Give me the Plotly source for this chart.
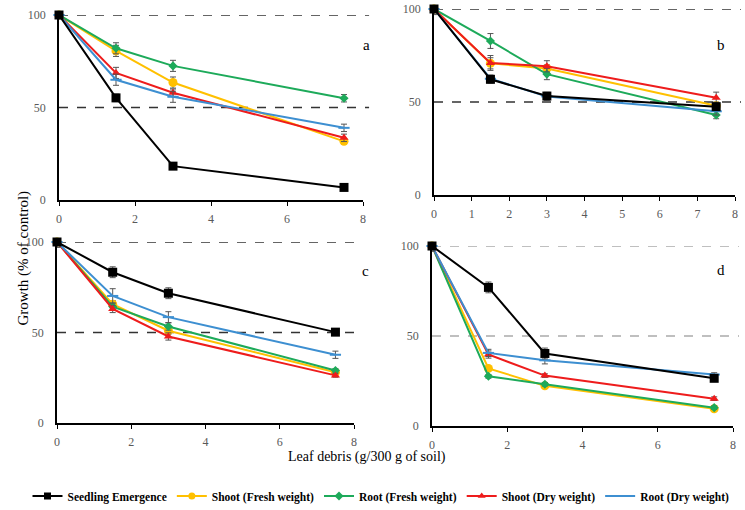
import plotly.graph_objects as go

x_vals = [0, 1.5, 3, 7.5]
series_names = ["Seedling Emergence", "Shoot (Fresh weight)", "Root (Fresh weight)",
                "Shoot (Dry weight)", "Root (Dry weight)"]

# panel a
a_seedling = [100, 55.2, 18.3, 6.8]
a_shoot_fresh = [100, 80.6, 63.5, 31.7]
a_root_fresh = [100, 82.0, 72.5, 55.0]
a_shoot_dry = [100, 68.7, 58.0, 33.6]
a_root_dry = [100, 65.0, 55.8, 39.0]
# panel b
b_seedling = [100, 62.2, 53.2, 47.5]
b_shoot_fresh = [100, 70.8, 68.0, 48.0]
b_root_fresh = [100, 82.8, 65.0, 43.0]
b_shoot_dry = [100, 71.0, 69.2, 52.3]
b_root_dry = [100, 62.5, 53.0, 45.0]
# panel c
c_seedling = [100, 83.3, 71.7, 50.2]
c_shoot_fresh = [100, 65.6, 51.0, 28.0]
c_root_fresh = [100, 64.3, 53.3, 29.0]
c_shoot_dry = [100, 63.0, 47.8, 26.3]
c_root_dry = [100, 70.2, 58.5, 37.7]
# panel d
d_seedling = [100, 77.0, 40.3, 26.5]
d_shoot_fresh = [100, 32.0, 22.3, 9.6]
d_root_fresh = [100, 27.6, 23.2, 10.2]
d_shoot_dry = [100, 39.7, 28.0, 15.2]
d_root_dry = [100, 40.6, 36.5, 28.6]

# error bars (estimated)
a_err = [[2, 2, 1, 1], [1, 3, 3, 1], [1, 3, 3, 2], [1, 3, 2, 2], [1, 3, 3, 2]]
b_err = [[3, 2, 2, 2], [1, 3, 2, 2], [1, 4, 3, 2], [1, 4, 3, 3], [1, 2, 2, 2]]
c_err = [[3, 3, 3, 1], [1, 2, 2, 1], [1, 2, 2, 1], [1, 2, 2, 1], [1, 4, 3, 2]]
d_err = [[3, 3, 3, 1], [1, 1, 1, 1], [1, 1, 1, 1], [1, 2, 1, 1], [1, 2, 2, 1]]

panels = [
    ([a_seedling, a_shoot_fresh, a_root_fresh, a_shoot_dry, a_root_dry], a_err),
    ([b_seedling, b_shoot_fresh, b_root_fresh, b_shoot_dry, b_root_dry], b_err),
    ([c_seedling, c_shoot_fresh, c_root_fresh, c_shoot_dry, c_root_dry], c_err),
    ([d_seedling, d_shoot_fresh, d_root_fresh, d_shoot_dry, d_root_dry], d_err),
]
panel_labels = ["a", "b", "c", "d"]
y_ticks = [0, 50, 100]

colors = ["#000000", "#FFC000", "#1DAA5A", "#EE1C1C", "#3D8FD1"]
symbols = ["square", "circle", "diamond", "triangle-up", "line-ew"]
sizes = [9, 9, 7, 8, 8]

W, H = 745, 510


def px(xp):
    return xp / W


def py(yp):
    return 1 - yp / H


# pixel boxes: (left, right, top, bottom)
boxes = [(59, 363, 15, 200), (434, 735, 9, 195), (57, 354, 242, 423), (432, 733, 246, 426)]
label_pos = [(366, 35), (727, 35), (365, 271), (727, 270)]

fig = go.Figure()
FONT = "Liberation Serif"

for p, ((series, errs), box) in enumerate(zip(panels, boxes)):
    xa = "x" if p == 0 else f"x{p+1}"
    ya = "y" if p == 0 else f"y{p+1}"
    for i in [1, 2, 3, 4, 0]:
        fig.add_trace(go.Scatter(
            x=x_vals, y=series[i], mode="lines+markers", name=series_names[i],
            xaxis=xa, yaxis=ya, showlegend=False, cliponaxis=False,
            line=dict(color=colors[i], width=2),
            marker=dict(symbol=symbols[i], size=sizes[i], color=colors[i],
                        line=dict(color=colors[i], width=2 if i == 4 else 0)),
            error_y=dict(type="data", array=errs[i], color="#555555", thickness=1, width=3),
        ))
    l, r, t, b = box
    ax_common = dict(showline=True, linecolor="black", linewidth=1.5, showgrid=False,
                     zeroline=False, automargin=False, ticklabeloverflow="allow",
                     tickfont=dict(family=FONT, size=12, color="#595959"))
    fig.layout[f"xaxis{'' if p == 0 else p+1}"] = dict(
        domain=[px(l), px(r)], anchor=ya, range=[0, 8],
        tickmode="linear", tick0=0, dtick=1 if p == 1 else 2,
        ticks="outside", ticklen=4, tickcolor="black", ticklabelstandoff=3, **ax_common)
    fig.layout[f"yaxis{'' if p == 0 else p+1}"] = dict(
        domain=[py(b), py(t)], anchor=xa, range=[0, 100],
        tickmode="array", tickvals=y_ticks, ticks="", ticklabelstandoff=9, **ax_common)
    dash_col = "#AAAAAA" if p == 3 else "#333333"
    for yv in [50, 100]:
        fig.add_shape(type="line", xref=f"{xa} domain", yref=ya, x0=0, x1=1.02, y0=yv, y1=yv,
                      line=dict(color=dash_col, width=1.5, dash="dash"), layer="below")
    lx, ly = label_pos[p]
    fig.add_annotation(x=px(lx), y=py(ly), xref="paper", yref="paper", text=panel_labels[p],
                       showarrow=False, font=dict(family=FONT, size=15, color="black"))

# legend traces
for i in range(5):
    fig.add_trace(go.Scatter(
        x=[None], y=[None], mode="lines+markers" if i < 4 else "lines", name=series_names[i],
        line=dict(color=colors[i], width=2),
        marker=dict(symbol=symbols[i], size=7, color=colors[i]),
        showlegend=True))

fig.add_annotation(x=px(12), y=py(258), xref="paper", yref="paper",
                   text="Growth (% of control)", textangle=-90, showarrow=False,
                   font=dict(family=FONT, size=15, color="black"))
fig.add_annotation(x=px(367), y=py(467), xref="paper", yref="paper",
                   text="Leaf debris (g/300 g of soil)", showarrow=False,
                   font=dict(family=FONT, size=14, color="black"))

fig.update_layout(
    width=W, height=H, margin=dict(l=0, r=0, t=0, b=0, autoexpand=False),
    paper_bgcolor="white", plot_bgcolor="white",
    legend=dict(orientation="h", x=px(381), xanchor="center", y=py(496), yanchor="middle",
                font=dict(family=FONT, size=11.5, color="black", weight="bold"),
                itemwidth=30, tracegroupgap=0, bgcolor="rgba(0,0,0,0)"),
)
fig.write_html("out.html", config={"displayModeBar": False},
               post_script="document.body.style.margin='0';document.body.style.overflow='hidden';")
